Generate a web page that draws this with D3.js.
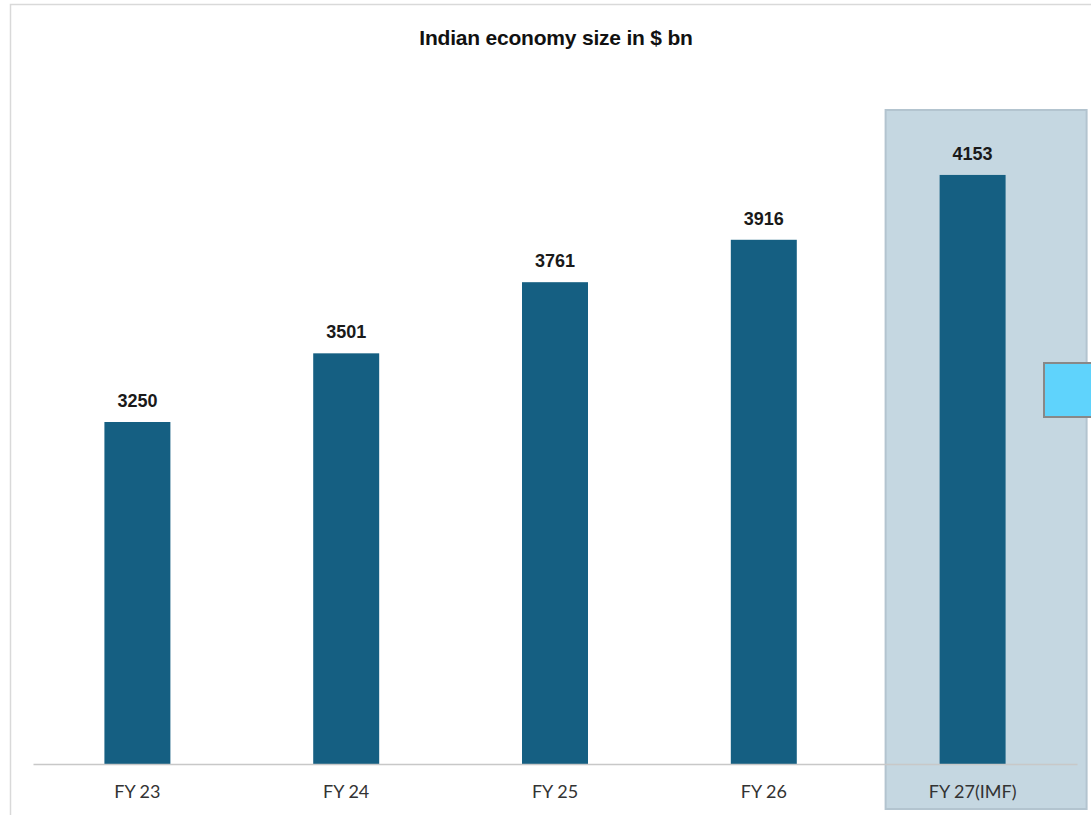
<!DOCTYPE html>
<html><head><meta charset="utf-8">
<script src="https://cdn.jsdelivr.net/npm/d3@7"></script>
<style>body{margin:0;background:#fff;} svg{display:block;}</style>
</head><body>
<script>
const title = "Indian economy size in $ bn";
const categories = ["FY 23","FY 24","FY 25","FY 26","FY 27(IMF)"];
const values = [3250, 3501, 3761, 3916, 4153];
const highlighted = ["FY 27(IMF)"];

const W = 1091, H = 815;
const svg = d3.select("body").append("svg").attr("width", W).attr("height", H);

// outer frame
svg.append("rect").attr("x", 10.5).attr("y", 4.5).attr("width", W + 10).attr("height", H + 10)
  .attr("fill", "#fff").attr("stroke", "#d9d9d9").attr("stroke-width", 1.5);

const x = d3.scaleBand().domain(categories).range([33, 1077]).paddingInner(0.684).paddingOuter(0.342);
const y = d3.scaleLinear().domain([2000, 4500]).range([764, 80]);

// highlight panel
highlighted.forEach(c => {
  const cx = x(c) + x.bandwidth() / 2;
  svg.append("rect").attr("x", cx - 87).attr("y", 110).attr("width", 201).attr("height", 699)
    .attr("fill", "#c5d7e1").attr("stroke", "#b3c4cf").attr("stroke-width", 2);
});

// title
svg.append("text").attr("x", 556).attr("y", 45).attr("text-anchor", "middle")
  .attr("font-family", "Liberation Sans Narrow, Arial Narrow, Liberation Sans, Arial, sans-serif")
  .attr("font-weight", "bold").attr("font-size", 21).attr("letter-spacing", -0.2)
  .attr("fill", "#111").text(title);

// bars
svg.selectAll("rect.bar").data(values).enter().append("rect").attr("class", "bar")
  .attr("x", (d, i) => x(categories[i])).attr("width", x.bandwidth())
  .attr("y", d => y(d)).attr("height", d => y(2000) - y(d)).attr("fill", "#155f82");

// value labels
svg.selectAll("text.val").data(values).enter().append("text").attr("class", "val")
  .attr("x", (d, i) => x(categories[i]) + x.bandwidth() / 2).attr("y", d => y(d) - 15)
  .attr("text-anchor", "middle").attr("font-family", "Liberation Sans, Arial, sans-serif")
  .attr("font-weight", "bold").attr("font-size", 18).attr("fill", "#1a1a1a").text(d => d);

// axis
const ax = svg.append("g").attr("transform", "translate(0,764)")
  .call(d3.axisBottom(x).tickSize(0).tickPadding(21));
ax.select(".domain").attr("stroke", "#c8c8c8").attr("stroke-width", 1.5);
ax.selectAll("text").attr("font-family", "Lato, sans-serif").attr("font-size", 18).attr("fill", "#333");

// cyan box at right edge
svg.append("rect").attr("x", 1044).attr("y", 363).attr("width", 60).attr("height", 54)
  .attr("fill", "#5fd3fc").attr("stroke", "#888").attr("stroke-width", 2);
</script>
</body></html>
